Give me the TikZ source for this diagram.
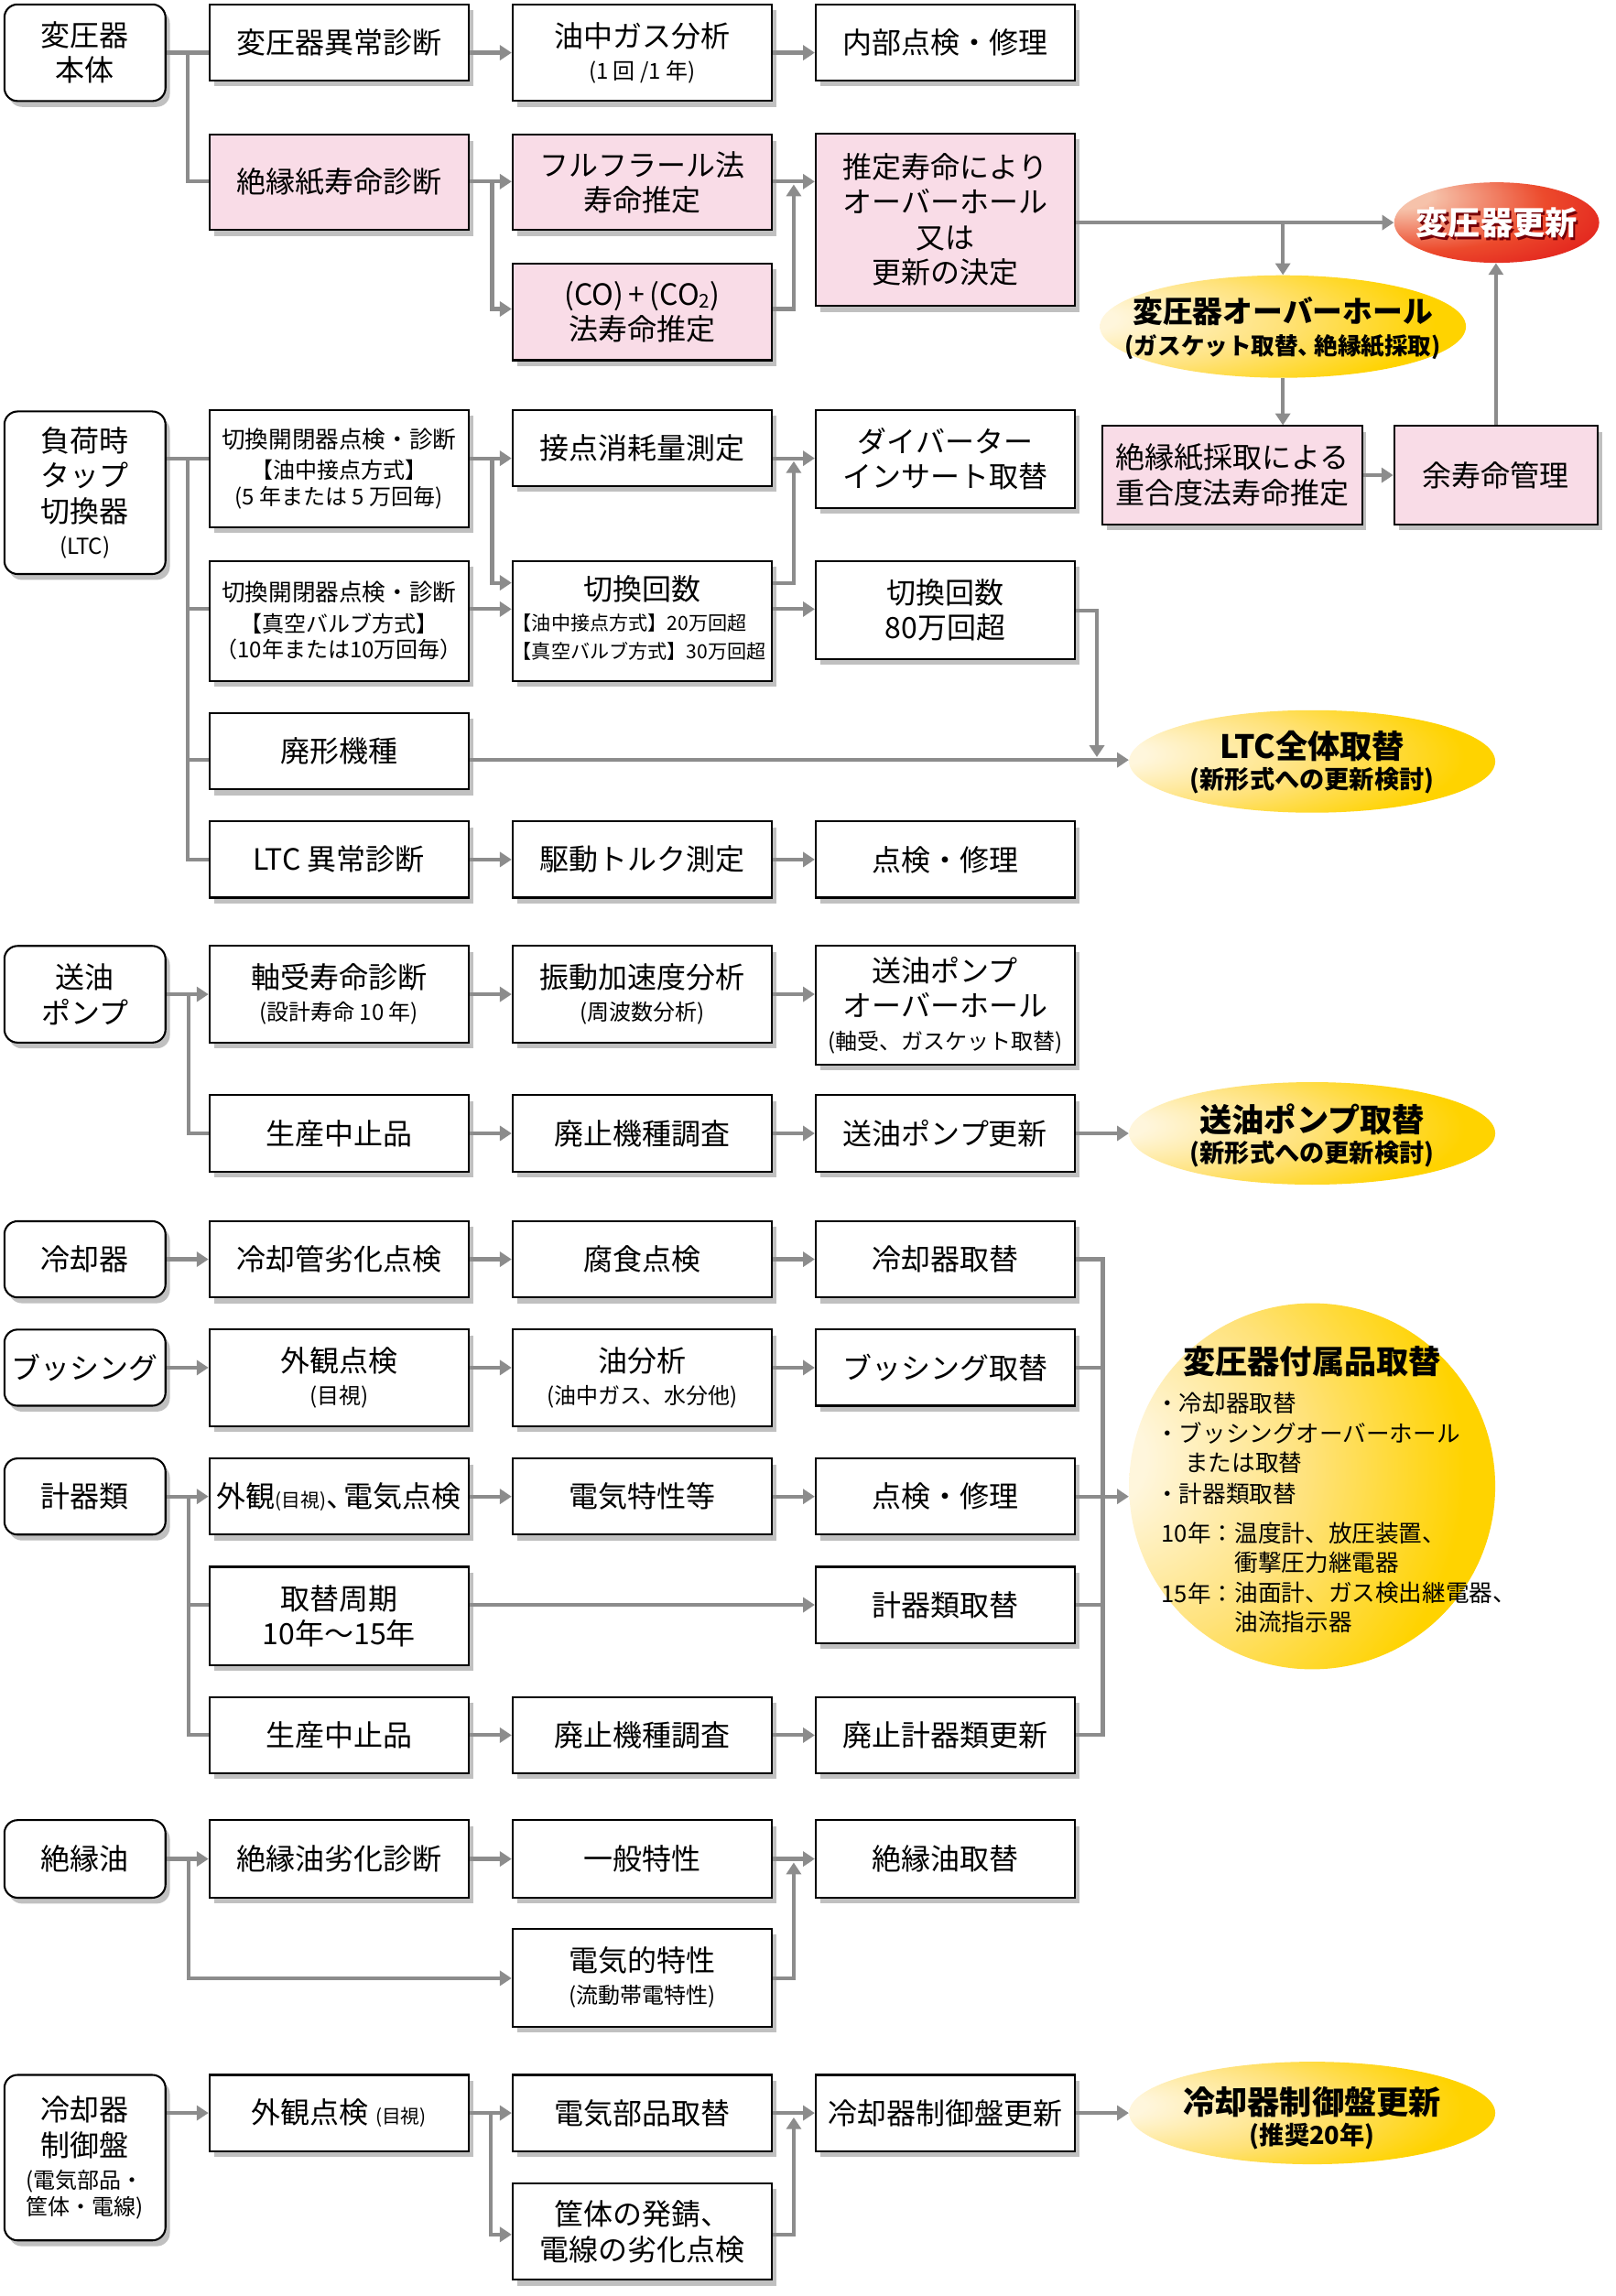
\documentclass[tikz,border=0pt]{standalone}
\usepackage{fontspec}
\setmainfont{Noto Sans CJK JP}
\usetikzlibrary{shapes.geometric,arrows.meta,shadows}
\definecolor{pinkc}{HTML}{F9DCE7}
\definecolor{lnc}{HTML}{8C8C8C}
\definecolor{yl0}{HTML}{FFF6DC}
\definecolor{yl1}{HTML}{FFE27A}
\definecolor{yl2}{HTML}{FFD300}
\definecolor{rd0}{HTML}{F6C2AA}
\definecolor{rd1}{HTML}{EC4A2C}
\definecolor{rd2}{HTML}{DC0A14}
\definecolor{rd3}{HTML}{C4000C}
\pgfdeclareradialshading{ylw}{\pgfpoint{-32bp}{4bp}}{color(0bp)=(yl0); color(7bp)=(yl0); color(24bp)=(yl1); color(40bp)=(yl2); color(100bp)=(yl2)}
\pgfdeclareradialshading{rds}{\pgfpoint{-26bp}{18bp}}{color(0bp)=(rd0); color(8bp)=(rd0); color(30bp)=(rd1); color(55bp)=(rd2); color(100bp)=(rd3)}
\newcommand\fzA{\fontsize{20}{24}\selectfont}
\newcommand\fzM{\fontsize{16}{19}\selectfont}
\newcommand\fzS{\fontsize{15}{18}\selectfont}
\newcommand\fzT{\fontsize{13}{16}\selectfont}
\newcommand\fzE{\fontsize{22}{24}\selectfont\bfseries}
\newcommand\fzF{\fontsize{17}{19}\selectfont\bfseries}
\newcommand\fzL{\fontsize{16}{19}\selectfont}
\begin{document}
\begin{tikzpicture}[x=1pt,y=-1pt,
  bx/.style={draw=black, line width=1.3pt, fill=white, inner sep=1pt, align=center,
    minimum width=177pt, font=\fzA,
    drop shadow={shadow xshift=3pt, shadow yshift=-4pt, opacity=0.35, fill=black!70}},
  pk/.style={bx, fill=pinkc},
  rb/.style={bx, rounded corners=9pt, minimum width=110pt},
  ln/.style={draw=lnc, line width=2.6pt},
  ar/.style={ln, -{Triangle[length=8pt,width=10pt]}},
  el/.style={ellipse, inner sep=0pt, shading=ylw, shade,
    minimum width=250pt, minimum height=70pt},
  et/.style={align=center, inner sep=0pt, font=\fzE},
  lt/.style={anchor=west, inner sep=0pt, font=\fzL}]
\fill[white] (0,0) rectangle (1103,1568);
\useasboundingbox (0,0) rectangle (1103,1568);

% ---------------- transformer body
\node[rb,minimum height=66pt] (tA0) at (58,36) {変圧器\\本体};
\node[bx,minimum height=52pt] (tA1) at (231.5,29) {変圧器異常診断};
\node[bx,minimum height=66pt] (tA2) at (438.5,36) {油中ガス分析\\[-2pt]\fzS (1 回 /1 年)};
\node[bx,minimum height=52pt] (tA3) at (645.5,29) {内部点検・修理};
\node[pk,minimum height=65pt] (tB1) at (231.5,124.5) {絶縁紙寿命診断};
\node[pk,minimum height=65pt] (tB2) at (438.5,124.5) {フルフラール法\\寿命推定};
\node[pk,minimum height=66pt] (tC2) at (438.5,213) {(CO)\,+\,(CO\raisebox{-2pt}{\fzT 2})\\法寿命推定};
\node[pk,minimum height=118pt] (tB3) at (645.5,150) {推定寿命により\\オーバーホール\\又は\\更新の決定};
\node[el, shading=rds, minimum width=140pt, minimum height=55pt] (eRen) at (1022,152) {};
\node[text=rd3!60!black, font=\fzE] (eRenS) at (1023.5,154) {変圧器更新};
\node[text=white, font=\fzE] (eRenT) at (1022,152) {変圧器更新};
\node[el] (eOH) at (876,223) {};
\node[et] (eOHt) at (876,224) {\fontsize{20.5}{23}\selectfont\bfseries 変圧器オーバーホール\\[-2pt]\fontsize{16}{18}\selectfont\bfseries (ガスケット取替、\kern-5pt 絶縁紙採取)};
\node[pk, minimum width=177pt, minimum height=67pt] (tD) at (841.5,324.5) {絶縁紙採取による\\重合度法寿命推定};
\node[pk, minimum width=139pt, minimum height=67pt] (tE) at (1021.5,324.5) {余寿命管理};

\coordinate (jA) at (128,36);
\draw[ln] (tA0.east |- jA) -- (tA1.west |- jA);
\draw[ln] (jA) -- (128,124) -- (tB1.west |- 0,124);
\draw[ar] (tA1.east |- jA) -- (tA2.west |- jA);
\draw[ar] (tA2.east |- jA) -- (tA3.west |- jA);
\draw[ar] (tB1.east |- 0,124) -- (tB2.west |- 0,124);
\draw[ar] (336,124) -- (336,211) -- (tC2.west |- 0,211);
\draw[ar] (tB2.east |- 0,124) -- (tB3.west |- 0,124);
\draw[ar] (tC2.east |- 0,211) -- (542,211) -- (542,126);
\draw[ar] (tB3.east |- eRen.west) -- (eRen.west);
\draw[ar] (876,152) -- (eOH.north);
\draw[ar] (eOH.south) -- (eOH.south |- tD.north);
\draw[ar] (tD.east) -- (tE.west);
\draw[ar] (tE.north) -- (tE.north |- eRen.south);

% ---------------- LTC
\node[rb, minimum height=111pt] (L0) at (58,336.5) {負荷時\\タップ\\切換器\\[-2pt]\fzS (LTC)};
\node[bx, minimum height=80pt, font=\fzS] (L1a) at (231.5,320) {\fzM 切換開閉器点検・診断\\[3pt]\fzS 【油中接点方式】\\\fzS (5 年または 5 万回毎)};
\node[bx, minimum height=52pt] (L2a) at (438.5,306) {接点消耗量測定};
\node[bx, minimum height=67pt] (L3a) at (645.5,313.5) {ダイバーター\\インサート取替};
\node[bx, minimum height=82pt, font=\fzS] (L1b) at (231.5,424) {\fzM 切換開閉器点検・診断\\[3pt]\fzS 【真空バルブ方式】\\\fzS （10年または10万回毎）};
\node[bx, minimum height=82pt] (L2b) at (438.5,424) {切換回数\\[-3pt]{\fontsize{13.2}{19}\selectfont\begin{tabular}[t]{@{}l@{}}\kern-4pt【油中接点方式】20万回超\\\kern-4pt【真空バルブ方式】30万回超\end{tabular}}};
\node[bx, minimum height=67pt] (L3b) at (645.5,416.5) {切換回数\\80万回超};
\node[bx, minimum height=52pt] (L1c) at (231.5,513) {廃形機種};
\node[el] (eLTC) at (896,520) {};
\node[et] (eLTCt) at (896,520.5) {LTC全体取替\\[-3pt]\fzF (新形式への更新検討)};
\node[bx, minimum height=52pt] (L1d) at (231.5,587) {LTC 異常診断};
\node[bx, minimum height=52pt] (L2d) at (438.5,587) {駆動トルク測定};
\node[bx, minimum height=52pt] (L3d) at (645.5,587) {点検・修理};

\draw[ln] (L0.east |- 0,313) -- (128,313) -- (128,587) -- (L1d.west);
\draw[ln] (128,313) -- (L1a.west |- 0,313);
\draw[ln] (128,416) -- (L1b.west |- 0,416);
\draw[ln] (128,519) -- (L1c.west |- 0,519);
\draw[ar] (L1a.east |- 0,313) -- (L2a.west |- 0,313);
\draw[ar] (336,313) -- (336,398) -- (L2b.west |- 0,398);
\draw[ar] (L1b.east |- 0,416) -- (L2b.west |- 0,416);
\draw[ar] (L2a.east |- 0,313) -- (L3a.west |- 0,313);
\draw[ar] (L2b.east |- 0,398) -- (542,398) -- (542,315);
\draw[ar] (L2b.east |- 0,416) -- (L3b.west |- 0,416);
\draw[ar] (L3b.east |- 0,417) -- (749,417) -- (749,517);
\draw[ar] (L1c.east |- 0,519) -- (eLTC.west |- 0,519);
\draw[ar] (L1d.east) -- (L2d.west);
\draw[ar] (L2d.east) -- (L3d.west);

% ---------------- pump
\node[rb, minimum height=66pt] (P0) at (58,679) {送油\\ポンプ};
\node[bx, minimum height=66pt] (P1a) at (231.5,679) {軸受寿命診断\\[-2pt]\fzS (設計寿命 10 年)};
\node[bx, minimum height=66pt] (P2a) at (438.5,679) {振動加速度分析\\[-2pt]\fzS (周波数分析)};
\node[bx, minimum height=81pt] (P3a) at (645.5,686.5) {送油ポンプ\\オーバーホール\\[-2pt]\fzS (軸受、ガスケット取替)};
\node[bx, minimum height=52pt] (P1b) at (231.5,774) {生産中止品};
\node[bx, minimum height=52pt] (P2b) at (438.5,774) {廃止機種調査};
\node[bx, minimum height=52pt] (P3b) at (645.5,774) {送油ポンプ更新};
\node[el] (ePump) at (896,774) {};
\node[et] (ePumpt) at (896,775.5) {送油ポンプ取替\\[-3pt]\fzF (新形式への更新検討)};

\draw[ar] (P0.east) -- (P1a.west);
\draw[ln] (129,679) -- (129,774) -- (P1b.west);
\draw[ar] (P1a.east) -- (P2a.west);
\draw[ar] (P2a.east) -- (P3a.west |- P2a.east);
\draw[ar] (P1b.east) -- (P2b.west);
\draw[ar] (P2b.east) -- (P3b.west);
\draw[ar] (P3b.east) -- (ePump.west);

% ---------------- cooler / bushing / meters
\node[rb, minimum height=52pt] (C0) at (58,860) {冷却器};
\node[bx, minimum height=52pt] (C1) at (231.5,860) {冷却管劣化点検};
\node[bx, minimum height=52pt] (C2) at (438.5,860) {腐食点検};
\node[bx, minimum height=52pt] (C3) at (645.5,860) {冷却器取替};
\node[rb, minimum height=52pt] (B0) at (58,934) {ブッシング};
\node[bx, minimum height=66pt] (B1) at (231.5,941) {外観点検\\[-2pt]\fzS (目視)};
\node[bx, minimum height=66pt] (B2) at (438.5,941) {油分析\\[-2pt]\fzS (油中ガス、水分他)};
\node[bx, minimum height=52pt] (B3) at (645.5,934) {ブッシング取替};
\node[rb, minimum height=52pt] (M0) at (58,1022) {計器類};
\node[bx, minimum height=52pt] (M1) at (231.5,1022) {外観{\fzT (目視)}、\kern-8pt 電気点検};
\node[bx, minimum height=52pt] (M2) at (438.5,1022) {電気特性等};
\node[bx, minimum height=52pt] (M3) at (645.5,1022) {点検・修理};
\node[bx, minimum height=67pt] (M1b) at (231.5,1103.5) {取替周期\\10年〜15年};
\node[bx, minimum height=52pt] (M3b) at (645.5,1096) {計器類取替};
\node[bx, minimum height=52pt] (M1c) at (231.5,1185) {生産中止品};
\node[bx, minimum height=52pt] (M2c) at (438.5,1185) {廃止機種調査};
\node[bx, minimum height=52pt] (M3c) at (645.5,1185) {廃止計器類更新};

\node[circle, shading=ylw, shade, minimum size=250pt, inner sep=0pt] (eAcc) at (896,1015) {};
\node[font=\fzE, inner sep=0pt] (accT) at (896,930) {変圧器付属品取替};
\node[lt] (acc1) at (789,958) {・冷却器取替};
\node[lt] (acc2) at (789,979) {・ブッシングオーバーホール};
\node[lt] (acc3) at (809,999) {または取替};
\node[lt] (acc4) at (789,1020) {・計器類取替};
\node[lt] (acc5) at (793,1047) {10年：};
\node[lt] (acc6) at (843,1047) {温度計、放圧装置、};
\node[lt] (acc7) at (843,1067) {衝撃圧力継電器};
\node[lt] (acc8) at (793,1088) {15年：};
\node[lt] (acc9) at (843,1088) {油面計、ガス検出継電器、};
\node[lt] (acc10) at (843,1108) {油流指示器};

\draw[ar] (C0.east) -- (C1.west);
\draw[ar] (C1.east) -- (C2.west);
\draw[ar] (C2.east) -- (C3.west);
\draw[ar] (B0.east) -- (B1.west |- B0.east);
\draw[ar] (B1.east |- B0.east) -- (B2.west |- B0.east);
\draw[ar] (B2.east |- B0.east) -- (B3.west);
\draw[ar] (M0.east) -- (M1.west);
\draw[ln] (129,1022) -- (129,1185) -- (M1c.west);
\draw[ln] (129,1096) -- (M1b.west |- 0,1096);
\draw[ar] (M1.east) -- (M2.west);
\draw[ar] (M2.east) -- (M3.west);
\draw[ar] (M1b.east |- 0,1096) -- (M3b.west);
\draw[ar] (M1c.east) -- (M2c.west);
\draw[ar] (M2c.east) -- (M3c.west);
\draw[ln] (C3.east) -- (753,860) -- (753,1185) -- (M3c.east);
\draw[ln] (B3.east) -- (753,934);
\draw[ln] (M3.east) -- (753,1022);
\draw[ln] (M3b.east) -- (753,1096);
\draw[ar] (753,1022) -- (eAcc.west |- 0,1022);

% ---------------- insulating oil
\node[rb, minimum height=53pt] (O0) at (58,1269.5) {絶縁油};
\node[bx, minimum height=53pt] (O1) at (231.5,1269.5) {絶縁油劣化診断};
\node[bx, minimum height=53pt] (O2) at (438.5,1269.5) {一般特性};
\node[bx, minimum height=53pt] (O3) at (645.5,1269.5) {絶縁油取替};
\node[bx, minimum height=67pt] (O2b) at (438.5,1350.5) {電気的特性\\[-2pt]\fzS (流動帯電特性)};

\draw[ar] (O0.east) -- (O1.west);
\draw[ar] (129,1269.5) -- (129,1351) -- (O2b.west |- 0,1351);
\draw[ar] (O1.east) -- (O2.west);
\draw[ar] (O2.east) -- (O3.west);
\draw[ar] (O2b.east |- 0,1351) -- (542,1351) -- (542,1272);

% ---------------- cooler control panel
\node[rb, minimum height=113pt] (K0) at (58,1473.5) {冷却器\\制御盤\\[-2pt]\fzS (電気部品・\\[-6pt]\fzS 筐体・電線)};
\node[bx, minimum height=52pt] (K1) at (231.5,1443) {外観点検 {\fzT (目視)}};
\node[bx, minimum height=52pt] (K2) at (438.5,1443) {電気部品取替};
\node[bx, minimum height=66pt] (K2b) at (438.5,1524) {筐体の発錆、\\電線の劣化点検};
\node[bx, minimum height=52pt] (K3) at (645.5,1443) {冷却器制御盤更新};
\node[el] (eK) at (896,1443) {};
\node[et] (eKt) at (896,1446.5) {冷却器制御盤更新\\[-3pt]\fzF (推奨20年)};

\draw[ar] (K0.east |- K1.west) -- (K1.west);
\draw[ar] (K1.east) -- (K2.west);
\draw[ar] (335,1443) -- (335,1526) -- (K2b.west |- 0,1526);
\draw[ar] (K2.east) -- (K3.west);
\draw[ar] (K2b.east |- 0,1526) -- (542,1526) -- (542,1446);
\draw[ar] (K3.east) -- (eK.west);
\end{tikzpicture}
\end{document}
